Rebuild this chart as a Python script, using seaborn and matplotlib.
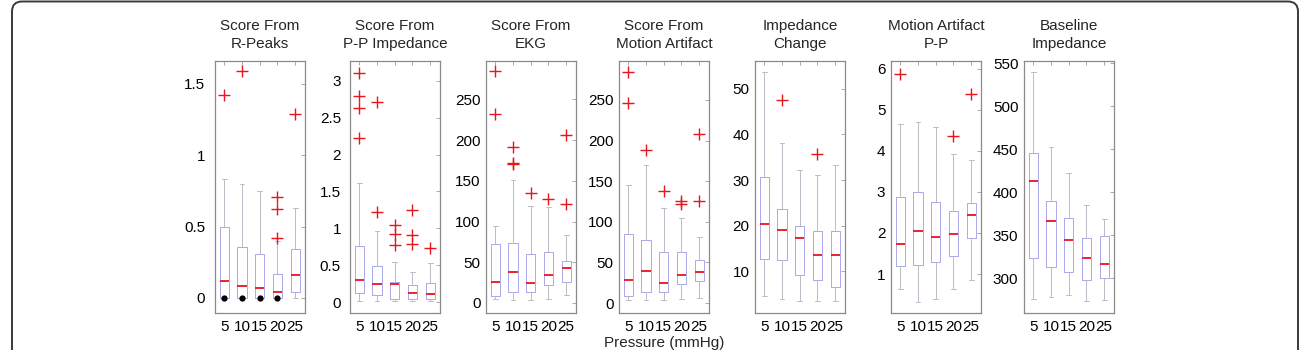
import numpy as np
import pandas as pd
import matplotlib
matplotlib.use("Agg")
import matplotlib.pyplot as plt
import seaborn as sns
from matplotlib.patches import FancyBboxPatch
from matplotlib.transforms import IdentityTransform
from matplotlib.ticker import FormatStrFormatter

pressure = ["5", "10", "15", "20", "25"]

titles = ["Score From\nR-Peaks", "Score From\nP-P Impedance", "Score From\nEKG",
          "Score From\nMotion Artifact", "Impedance\nChange", "Motion Artifact\nP-P",
          "Baseline\nImpedance"]

# per pressure: low whisker, q1, median, q3, high whisker
rpeaks_box = [[0, 0, 0.12, 0.495, 0.83], [0, 0, 0.084, 0.356, 0.80], [0, 0, 0.072, 0.307, 0.75],
              [0, 0, 0.044, 0.17, 0.40], [0, 0.04, 0.16, 0.342, 0.63]]
rpeaks_out = [[1.42], [1.59], [], [0.71, 0.62, 0.42], [1.29]]
rpeaks_dots = [[0], [0], [0], [0], []]

pp_box = [[0.02, 0.126, 0.30, 0.76, 1.62], [0.01, 0.09, 0.24, 0.49, 0.96], [0.01, 0.045, 0.24, 0.27, 0.54],
          [0.01, 0.045, 0.126, 0.235, 0.41], [0.01, 0.036, 0.11, 0.26, 0.53]]
pp_out = [[3.11, 2.79, 2.63, 2.23], [2.72, 1.22], [1.04, 0.92, 0.77], [1.25, 0.91, 0.79], [0.73]]

ekg_box = [[5.3, 8.6, 25.7, 72.3, 94], [3.7, 13.5, 38, 73.9, 150.7], [3.7, 13.5, 24.1, 60, 118.9],
           [5.3, 22, 34.3, 62.5, 118], [9.4, 25.7, 42.5, 51.9, 83.3]]
ekg_out = [[284.7, 232.4], [191.2, 172, 170], [134.8], [127.9], [206.7, 120.9]]

motion_box = [[3.3, 8.2, 27.8, 85, 145.8], [3.3, 13.5, 39.6, 77.2, 170.3], [3.3, 13.5, 24.1, 62.5, 117.6],
              [4.9, 23.3, 34.3, 62.5, 104.2], [6.1, 27.4, 38, 53.5, 80.9]]
motion_out = [[284.7, 245.9], [188.7], [138], [125, 122], [208.7, 125]]

imp_change_box = [[4.6, 12.8, 20.5, 30.6, 53.6], [4.0, 12.5, 19.0, 23.7, 38.1], [3.5, 9.3, 17.4, 20.0, 32.2],
                  [3.5, 8.2, 13.7, 18.9, 31.2], [3.5, 6.7, 13.5, 18.9, 33.3]]
imp_change_out = [[], [47.6], [], [35.7], []]

ma_pp_box = [[0.63, 1.2, 1.74, 2.87, 4.65], [0.33, 1.22, 2.06, 3.0, 4.70], [0.39, 1.30, 1.89, 2.76, 4.59],
             [0.64, 1.44, 1.98, 2.53, 3.92], [0.86, 1.88, 2.44, 2.74, 3.77]]
ma_pp_out = [[5.87], [], [], [4.36], [5.39]]

baseline_box = [[276.4, 323.2, 412.8, 445.3, 540], [278.7, 313.5, 367.2, 390, 452.6],
                [280.3, 307.3, 344.4, 370, 422.9], [273.7, 298.5, 324.3, 347.1, 385.4],
                [275.3, 300, 316.2, 349.5, 369.2]]
baseline_out = [[], [], [], [], []]

boxes = [rpeaks_box, pp_box, ekg_box, motion_box, imp_change_box, ma_pp_box, baseline_box]
outliers = [rpeaks_out, pp_out, ekg_out, motion_out, imp_change_out, ma_pp_out, baseline_out]

ylims = [(-0.105, 1.658), (-0.149, 3.27), (-12.3, 297), (-12.3, 298), (0.9, 56.1), (0.05, 6.19), (259.8, 552.7)]
yticks = [[0, 0.5, 1, 1.5], [0, 0.5, 1, 1.5, 2, 2.5, 3], list(range(0, 251, 50)), list(range(0, 251, 50)),
          [10, 20, 30, 40, 50], [1, 2, 3, 4, 5, 6], list(range(300, 551, 50))]
ypads = [7, 6.5, 4, 4, 4, 4, 4]

W, H = 1308, 350
lefts = [215, 350, 486, 619, 755, 891, 1024]

sns.set_style("white")
plt.rcParams['font.family'] = ['Liberation Sans', 'DejaVu Sans']

box_color = "#a9a9ec"
whisk_color = "#bcbcc8"
red = "#e8141e"
frame = "#8a8a8a"


def long_table(groups):
    rows = [(p, v) for p, vals in zip(pressure, groups) for v in vals]
    return pd.DataFrame(rows, columns=["pressure", "value"])


fig = plt.figure(figsize=(W / 100, H / 100), dpi=100)

for i in range(7):
    ax = fig.add_axes([lefts[i] / W, 1 - 313 / H, 90 / W, 252 / H])
    sns.boxplot(data=long_table(boxes[i]), x="pressure", y="value", order=pressure, ax=ax,
                whis=(0, 100), width=0.52, fill=False, showfliers=False, linewidth=0.7,
                linecolor=box_color,
                boxprops=dict(color=box_color),
                whiskerprops=dict(color=whisk_color, linestyle="-"),
                capprops=dict(color=whisk_color),
                medianprops=dict(color=red, linewidth=1.3))
    odf = long_table(outliers[i])
    if len(odf):
        sns.stripplot(data=odf, x="pressure", y="value", order=pressure, ax=ax, jitter=False,
                      marker="+", color=red, size=9, linewidth=1.0)
    if i == 0:
        sns.stripplot(data=long_table(rpeaks_dots), x="pressure", y="value", order=pressure, ax=ax,
                      jitter=False, marker="o", color="black", size=4.5, linewidth=0)

    ax.set_xlim(-0.52, 4.55)
    ax.set_ylim(*ylims[i])
    ax.set_yticks(yticks[i])
    ax.yaxis.set_major_formatter(FormatStrFormatter("%g"))
    ax.set_xlabel("")
    ax.set_ylabel("")
    ax.tick_params(direction="in", top=True, right=True, length=3, width=0.6, color="#9a9a9a",
                   labelsize=11, labelcolor="black")
    ax.tick_params(axis="y", pad=ypads[i])
    ax.tick_params(axis="x", pad=5)
    for s in ax.spines.values():
        s.set_color(frame)
        s.set_linewidth(0.9)
    ax.set_title(titles[i], fontsize=11, pad=9.5, linespacing=1.35)

fig.text((619 + 709) / 2 / W, 1 - 335.5 / H, "Pressure (mmHg)", ha="center", va="top", fontsize=11)

border = FancyBboxPatch((12, -30), 1286, 378.5, boxstyle="round,pad=0,rounding_size=10",
                        transform=IdentityTransform(), fill=False, edgecolor="#3a3a3a", linewidth=1.4)
fig.add_artist(border)

fig.savefig("out.png", dpi=100)
